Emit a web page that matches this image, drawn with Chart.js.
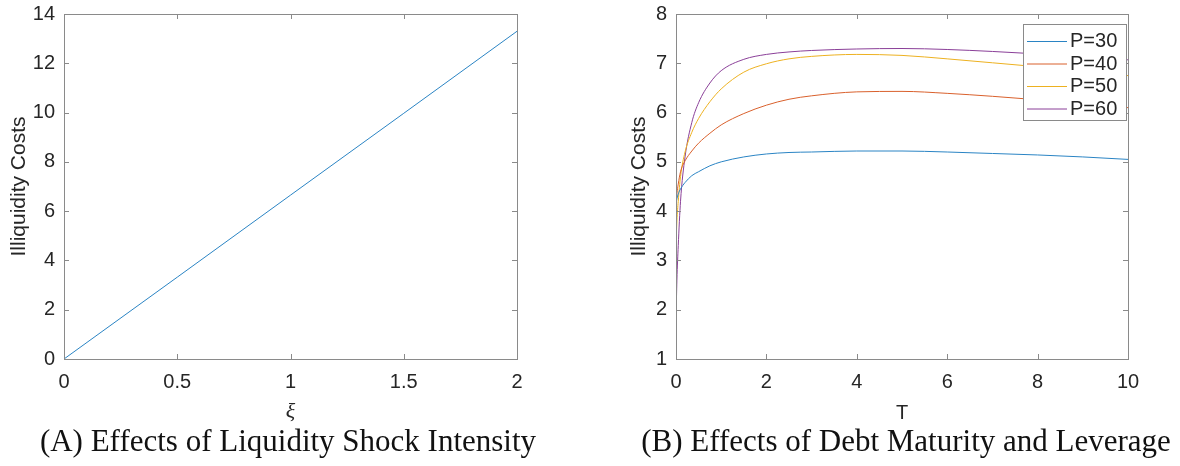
<!DOCTYPE html>
<html>
<head>
<meta charset="utf-8">
<script src="https://cdn.jsdelivr.net/npm/chart.js@4.4.1/dist/chart.umd.min.js"></script>
<style>
    body { margin: 0; background: #fff; width: 1180px; height: 466px; overflow: hidden; position: relative; }
    canvas { position: absolute; top: 0; }
    .caption {
        position: absolute; top: 423px; font-family: "Liberation Serif", "Times New Roman", serif;
        font-size: 31px; color: #111; white-space: nowrap; transform: translateX(-50%);
    }
</style>
</head>
<body>
<canvas id="chartA" width="590" height="430" style="left:0px"></canvas>
<canvas id="chartB" width="560" height="430" style="left:620px"></canvas>
<div class="caption" style="left:288px">(A) Effects of Liquidity Shock Intensity</div>
<div class="caption" style="left:906px">(B) Effects of Debt Maturity and Leverage</div>
<script>
// Panel A data
const xiValues = [0, 0.5, 1, 1.5, 2];
const shockCosts = [0, 3.32, 6.65, 9.97, 13.3];

// Panel B data
const maturityT = [0, 0.02, 0.05, 0.1, 0.2, 0.35, 0.5, 0.75, 1, 1.5, 2, 2.5, 3, 4, 5, 6, 7, 8, 9, 10];
const leverageLabels = ["P=30", "P=40", "P=50", "P=60"];
const costsP30 = [4.15, 4.25, 4.35, 4.45, 4.58, 4.72, 4.8, 4.92, 5.0, 5.1, 5.16, 5.19, 5.2, 5.22, 5.22, 5.2, 5.17, 5.14, 5.1, 5.05];
const costsP40 = [4.1, 4.35, 4.55, 4.8, 5.02, 5.22, 5.38, 5.58, 5.75, 5.98, 6.15, 6.27, 6.34, 6.42, 6.43, 6.39, 6.33, 6.26, 6.18, 6.1];
const costsP50 = [3.3, 3.8, 4.2, 4.7, 5.2, 5.6, 5.88, 6.22, 6.48, 6.82, 6.99, 7.09, 7.14, 7.18, 7.16, 7.09, 7.01, 6.93, 6.84, 6.75];
const costsP60 = [1.8, 2.6, 3.3, 4.2, 5.1, 5.8, 6.2, 6.6, 6.85, 7.08, 7.18, 7.23, 7.26, 7.29, 7.3, 7.28, 7.24, 7.19, 7.13, 7.07];

const lineColors = ["#2a84c4", "#d9602c", "#edb120", "#8a3f98"];
const axisColor = "#8a8a8a";
const textColor = "#262626";
const fontFamily = '"Liberation Sans", Arial, sans-serif';

Chart.defaults.font.family = fontFamily;
Chart.defaults.color = textColor;

function toPoints(xs, ys) {
    return xs.map(function(x, i) { return {x: x, y: ys[i]}; });
}

// Box round the plot area plus inward ticks on all four sides (MATLAB style)
const boxPlugin = {
    id: "matlabBox",
    afterDatasetsDraw(chart) {
        const ctx = chart.ctx;
        const a = chart.chartArea;
        const xs = chart.scales.x, ys = chart.scales.y;
        const len = 5;
        ctx.save();
        ctx.strokeStyle = axisColor;
        ctx.lineWidth = 1;
        ctx.strokeRect(Math.round(a.left) + 0.5, Math.round(a.top) + 0.5,
            Math.round(a.right - a.left), Math.round(a.bottom - a.top));
        ctx.beginPath();
        xs.ticks.forEach(function(t) {
            const px = Math.round(xs.getPixelForValue(t.value)) + 0.5;
            ctx.moveTo(px, a.bottom); ctx.lineTo(px, a.bottom - len);
            ctx.moveTo(px, a.top); ctx.lineTo(px, a.top + len);
        });
        ys.ticks.forEach(function(t) {
            const py = Math.round(ys.getPixelForValue(t.value)) + 0.5;
            ctx.moveTo(a.left, py); ctx.lineTo(a.left + len, py);
            ctx.moveTo(a.right, py); ctx.lineTo(a.right - len, py);
        });
        ctx.stroke();
        ctx.restore();
    }
};

// Legend with a box in the upper right corner of the plot
const boxLegendPlugin = {
    id: "boxLegend",
    afterDraw(chart, args, opts) {
        if (!opts.show) return;
        const ctx = chart.ctx;
        const a = chart.chartArea;
        const w = 103, rowH = 22.5, h = 96;
        const left = a.right - 2 - w, top = a.top + 10;
        ctx.save();
        ctx.fillStyle = "#fff";
        ctx.fillRect(left, top, w, h);
        ctx.strokeStyle = axisColor;
        ctx.lineWidth = 1;
        ctx.strokeRect(Math.round(left) + 0.5, Math.round(top) + 0.5, w, h);
        ctx.font = "20px " + fontFamily;
        ctx.textBaseline = "middle";
        chart.data.datasets.forEach(function(ds, i) {
            const cy = top + 17.5 + i * rowH;
            ctx.strokeStyle = ds.borderColor;
            ctx.beginPath();
            ctx.moveTo(left + 4, cy); ctx.lineTo(left + 44, cy);
            ctx.stroke();
            ctx.fillStyle = textColor;
            ctx.fillText(ds.label, left + 47, cy);
        });
        ctx.restore();
    }
};

function plainTick(value) {
    return String(Number(value.toFixed(2)));
}

function makeScales(xMin, xMax, xStep, yMin, yMax, yStep, yWidth, xTitle, xTitleFont) {
    return {
        x: {
            type: "linear", min: xMin, max: xMax,
            grid: { display: false, drawTicks: false },
            border: { display: false },
            ticks: { stepSize: xStep, padding: 11, font: { size: 20 }, color: textColor, callback: plainTick },
            title: { display: true, text: xTitle, font: xTitleFont, color: textColor, padding: { top: 0, bottom: 5 } },
            afterFit: function(s) { s.height = 71; s.paddingLeft = 0; s.paddingRight = 0; }
        },
        y: {
            type: "linear", min: yMin, max: yMax,
            grid: { display: false, drawTicks: false },
            border: { display: false },
            ticks: { stepSize: yStep, padding: 9, font: { size: 20 }, color: textColor, callback: plainTick },
            title: { display: true, text: "Illiquidity Costs", font: { size: 21 }, color: textColor, padding: { top: 7, bottom: 0 } },
            afterFit: function(s) { s.width = yWidth; s.paddingTop = 0; s.paddingBottom = 0; }
        }
    };
}

const chartA = new Chart(document.getElementById("chartA"), {
    type: "line",
    data: {
        datasets: [{
            label: "costs",
            data: toPoints(xiValues, shockCosts),
            borderColor: lineColors[0],
            borderWidth: 1,
            pointRadius: 0,
            tension: 0
        }]
    },
    options: {
        responsive: false,
        animation: false,
        devicePixelRatio: 1,
        layout: { padding: { top: 14, right: 73, bottom: 0, left: 0 } },
        plugins: { legend: { display: false }, tooltip: { enabled: false }, boxLegend: { show: false } },
        scales: makeScales(0, 2, 0.5, 0, 14, 2, 64, "ξ", { size: 22, style: "italic", family: '"Liberation Serif", serif' })
    },
    plugins: [boxPlugin, boxLegendPlugin]
});

const seriesB = [costsP30, costsP40, costsP50, costsP60];
const chartB = new Chart(document.getElementById("chartB"), {
    type: "line",
    data: {
        datasets: seriesB.map(function(vals, i) {
            return {
                label: leverageLabels[i],
                data: toPoints(maturityT, vals),
                borderColor: lineColors[i],
                borderWidth: 1,
                pointRadius: 0,
                cubicInterpolationMode: "monotone"
            };
        })
    },
    options: {
        responsive: false,
        animation: false,
        devicePixelRatio: 1,
        layout: { padding: { top: 14, right: 52, bottom: 0, left: 0 } },
        plugins: { legend: { display: false }, tooltip: { enabled: false }, boxLegend: { show: true } },
        scales: makeScales(0, 10, 2, 1, 8, 1, 56, "T", { size: 20 })
    },
    plugins: [boxPlugin, boxLegendPlugin]
});
</script>
</body>
</html>
